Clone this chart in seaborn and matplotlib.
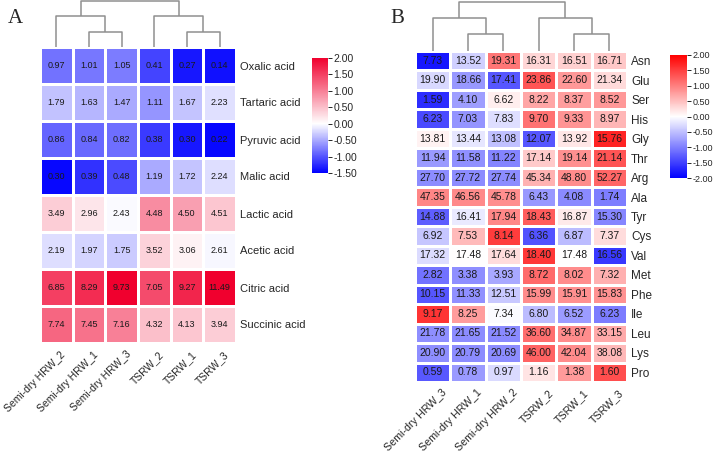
import matplotlib
matplotlib.use("Agg")
import matplotlib.pyplot as plt
import matplotlib.transforms as mtransforms
import numpy as np
import pandas as pd
import seaborn as sns
from matplotlib.colors import LinearSegmentedColormap

# ---- panel A: organic acids ----
acid_cols = ["Semi-dry HRW_2", "Semi-dry HRW_1", "Semi-dry HRW_3", "TSRW_2", "TSRW_1", "TSRW_3"]
acid_rows = ["Oxalic acid", "Tartaric acid", "Pyruvic acid", "Malic acid",
             "Lactic acid", "Acetic acid", "Citric acid", "Succinic acid"]
oxalic = [0.97, 1.01, 1.05, 0.41, 0.27, 0.14]
tartaric = [1.79, 1.63, 1.47, 1.11, 1.67, 2.23]
pyruvic = [0.86, 0.84, 0.82, 0.38, 0.30, 0.22]
malic = [0.30, 0.39, 0.48, 1.19, 1.72, 2.24]
lactic = [3.49, 2.96, 2.43, 4.48, 4.50, 4.51]
acetic = [2.19, 1.97, 1.75, 3.52, 3.06, 2.61]
citric = [6.85, 8.29, 9.73, 7.05, 9.27, 11.49]
succinic = [7.74, 7.45, 7.16, 4.32, 4.13, 3.94]
oxalic_z = [-0.82, -0.80, -0.77, -1.10, -1.35, -1.40]
tartaric_z = [-0.36, -0.42, -0.50, -0.62, -0.35, -0.18]
pyruvic_z = [-0.90, -0.88, -0.85, -1.15, -1.35, -1.45]
malic_z = [-1.45, -1.20, -1.05, -0.50, -0.35, -0.20]
lactic_z = [0.40, 0.20, -0.03, 0.90, 0.75, 0.45]
acetic_z = [-0.20, -0.25, -0.30, 0.35, 0.10, -0.05]
citric_z = [1.50, 1.65, 2.00, 1.40, 1.70, 2.00]
succinic_z = [1.20, 1.10, 1.00, 0.50, 0.45, 0.40]
# dendrogram merges (left node, right node, height); leaves 0..5 in display order
acid_merges = [(1, 2, 1.0), (0, 6, 2.05), (4, 5, 1.0), (3, 8, 2.05), (7, 9, 3.05)]

# ---- panel B: amino acids ----
amino_cols = ["Semi-dry HRW_3", "Semi-dry HRW_1", "Semi-dry HRW_2", "TSRW_2", "TSRW_1", "TSRW_3"]
amino_rows = ["Asn", "Glu", "Ser", "His", "Gly", "Thr", "Arg", "Ala", "Tyr",
              "Cys", "Val", "Met", "Phe", "Ile", "Leu", "Lys", "Pro"]
asn = [7.73, 13.52, 19.31, 16.31, 16.51, 16.71]
glu = [19.90, 18.66, 17.41, 23.86, 22.60, 21.34]
ser = [1.59, 4.10, 6.62, 8.22, 8.37, 8.52]
his = [6.23, 7.03, 7.83, 9.70, 9.33, 8.97]
gly = [13.81, 13.44, 13.08, 12.07, 13.92, 15.76]
thr = [11.94, 11.58, 11.22, 17.14, 19.14, 21.14]
arg = [27.70, 27.72, 27.74, 45.34, 48.80, 52.27]
ala = [47.35, 46.56, 45.78, 6.43, 4.08, 1.74]
tyr = [14.88, 16.41, 17.94, 18.43, 16.87, 15.30]
cys = [6.92, 7.53, 8.14, 6.36, 6.87, 7.37]
val = [17.32, 17.48, 17.64, 18.40, 17.48, 16.56]
met = [2.82, 3.38, 3.93, 8.72, 8.02, 7.32]
phe = [10.15, 11.33, 12.51, 15.99, 15.91, 15.83]
ile = [9.17, 8.25, 7.34, 6.80, 6.52, 6.23]
leu = [21.78, 21.65, 21.52, 36.60, 34.87, 33.15]
lys = [20.90, 20.79, 20.69, 46.00, 42.04, 38.08]
pro = [0.59, 0.78, 0.97, 1.16, 1.38, 1.60]
amino_merges = [(1, 2, 1.0), (0, 6, 2.0), (4, 5, 1.0), (3, 8, 2.0), (7, 9, 2.9)]

W, H = 713, 455
FONT = ["Liberation Sans", "DejaVu Sans"]


def box(left, top, right, bottom):
    # pixel box -> figure fraction rect
    return [left / W, (H - bottom) / H, (right - left) / W, (bottom - top) / H]


def draw_dendro(ax, merges, n):
    xs = {i: i + 0.5 for i in range(n)}
    hs = {i: 0.0 for i in range(n)}
    for k, (a, b, h) in enumerate(merges):
        ax.plot([xs[a], xs[a], xs[b], xs[b]], [hs[a], h, h, hs[b]],
                color="#8f8f8f", lw=1.1, clip_on=False, solid_capstyle="butt")
        xs[n + k] = (xs[a] + xs[b]) / 2
        hs[n + k] = h
    ax.set_xlim(0, n)
    ax.set_ylim(0, max(m[2] for m in merges) * 1.01)
    ax.axis("off")


def panel(fig, df, zscores, cmap, vmin, vmax, ticks, rects, merges,
          annot_size, label_size, xlab_size, cb_size, xlab_shift):
    hm_rect, dd_rect, cb_rect = rects
    ax = fig.add_axes(hm_rect)
    cax = fig.add_axes(cb_rect)
    sns.heatmap(zscores, ax=ax, cbar_ax=cax, cmap=cmap, vmin=vmin, vmax=vmax,
                annot=df.values, fmt=".2f", linewidths=0.9, linecolor="white",
                annot_kws={"fontsize": annot_size, "color": "#1a1a1a", "family": FONT},
                cbar_kws={"ticks": ticks})
    ax.yaxis.tick_right()
    ax.set_yticklabels(df.index, rotation=0, fontsize=label_size, family=FONT)
    ax.set_xticklabels(df.columns, rotation=45, ha="right", va="top", rotation_mode="anchor",
                       fontsize=xlab_size, family=FONT)
    ax.tick_params(axis="y", length=0, pad=3)
    ax.tick_params(axis="x", length=0, pad=xlab_shift[1])
    shift = mtransforms.ScaledTranslation(xlab_shift[0] / 72, 0, fig.dpi_scale_trans)
    for lab in ax.get_xticklabels():
        lab.set_transform(lab.get_transform() + shift)
    ax.set_xlabel("")
    ax.set_ylabel("")
    cbar = ax.collections[0].colorbar
    cbar.outline.set_visible(False)
    cax.set_yticks(ticks)
    cax.set_yticklabels([f"{t:.2f}" for t in ticks], fontsize=cb_size, family=FONT)
    cax.tick_params(length=3, width=0.7, pad=1)
    dax = fig.add_axes(dd_rect)
    draw_dendro(dax, merges, df.shape[1])
    return ax


sns.set_theme(style="white")
plt.rcParams["font.family"] = FONT

fig = plt.figure(figsize=(W / 100, H / 100), dpi=100)

# A
acids = pd.DataFrame([oxalic, tartaric, pyruvic, malic, lactic, acetic, citric, succinic],
                     index=acid_rows, columns=acid_cols)
acid_z = pd.DataFrame([oxalic_z, tartaric_z, pyruvic_z, malic_z, lactic_z, acetic_z,
                       citric_z, succinic_z], index=acid_rows, columns=acid_cols)
cmap_a = LinearSegmentedColormap.from_list(
    "bwr_a", [(0.0, "#0000ff"), (1.5 / 3.5, "#ffffff"), (1.0, "#f0002e")])
panel(fig, acids, acid_z, cmap_a, -1.5, 2.0, np.arange(-1.5, 2.01, 0.5),
      (box(40, 47, 236, 343), box(40, 1, 236, 47), box(312, 58, 328, 173)),
      acid_merges, 6.5, 8, 7.5, 7.5, (3, 4.5))

# B: colour = row-wise z-score
amino = pd.DataFrame([asn, glu, ser, his, gly, thr, arg, ala, tyr, cys, val,
                      met, phe, ile, leu, lys, pro], index=amino_rows, columns=amino_cols)
amino_z = amino.sub(amino.mean(axis=1), axis=0).div(amino.std(axis=1, ddof=1), axis=0)
cmap_b = LinearSegmentedColormap.from_list(
    "bwr_b", [(0.0, "#0000ff"), (0.5, "#ffffff"), (1.0, "#ff0000")])
panel(fig, amino, amino_z, cmap_b, -2.0, 2.0, np.arange(-2.0, 2.01, 0.5),
      (box(415, 51, 627, 382), box(415, 2, 627, 51), box(670, 55, 687, 178)),
      amino_merges, 7.5, 8.5, 7.7, 6.5, (6.5, 4.0))

fig.text(8 / W, 1 - 23 / H, "A", fontsize=15, family="Liberation Serif", va="baseline")
fig.text(390 / W, 1 - 23 / H, "B", fontsize=15, family="Liberation Serif", va="baseline")

fig.savefig("out.png", dpi=100)
